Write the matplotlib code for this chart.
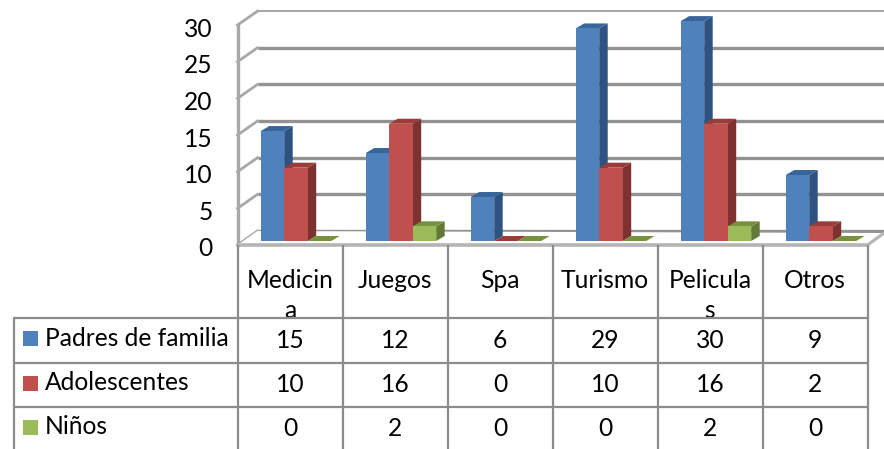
import matplotlib
matplotlib.use('Agg')
import matplotlib.pyplot as plt
from matplotlib.patches import Rectangle

plt.rcParams['font.family'] = ['Lato', 'DejaVu Sans']

category_lines = [['Medicin', 'a'], ['Juegos'], ['Spa'], ['Turismo'], ['Pelicula', 's'], ['Otros']]
series_names = ['Padres de familia', 'Adolescentes', 'Niños']
padres = [15, 12, 6, 29, 30, 9]
adolescentes = [10, 16, 0, 10, 16, 2]
ninos = [0, 2, 0, 0, 2, 0]
series_values = [padres, adolescentes, ninos]
y_ticks = [0, 5, 10, 15, 20, 25, 30]

front_colors = ['#4F81BD', '#C0504D', '#9BBB59']
side_colors = ['#2F5380', '#7D3230', '#637A36']
top_colors = ['#38659A', '#9A3C3A', '#76923C']

W, H = 884, 449
UNIT_X = 105.0   # px per category
UNIT_Y = 7.33    # px per value
X0 = 237.5       # left edge of the first category
Y0 = 241.0       # base of the bar fronts
GRID = '#929292'
TABLE = '#8C8C8C'
FS = 17.7

fig = plt.figure(figsize=(W / 100, H / 100), dpi=100)

# chart axes: x in categories, y in values
ax = fig.add_axes([0, 0, 1, 1])
ax.set_xlim(-X0 / UNIT_X, (W - X0) / UNIT_X)
ax.set_ylim(-(H - Y0) / UNIT_Y, Y0 / UNIT_Y)
ax.axis('off')

# table axes: plain pixels
tab = fig.add_axes([0, 0, 1, 1])
tab.set_xlim(0, W)
tab.set_ylim(H, 0)
tab.axis('off')
tab.patch.set_alpha(0)

DX = 20 / UNIT_X        # depth of the walls
BACK = 10 / UNIT_Y      # back wall above bar base
FRONT = -4 / UNIT_Y     # front floor edge below bar base
x_end = (W - X0) / UNIT_X
n_cat = len(category_lines)

# walls and gridlines
for v in y_ticks:
    ax.plot([DX, x_end], [v + BACK, v + BACK], color='#A8A8A8' if v == 30 else GRID,
            lw=1.5 if v == 30 else 2.4, zorder=1, solid_capstyle='butt')
    ax.plot([0, DX], [v + FRONT, v + BACK], color='#A8A8A8', lw=2.0, zorder=1)
    ax.text(-25 / UNIT_X, v + FRONT - 4 / UNIT_Y, str(v), ha='right', va='center', fontsize=FS, color='black')
ax.plot([0, 0], [FRONT, 30 + FRONT], color='#A8A8A8', lw=2.4, zorder=1, solid_capstyle='projecting')

# floor
ax.fill([0, n_cat, x_end, DX], [FRONT, FRONT, 12 / UNIT_Y + FRONT, BACK],
        color='white', zorder=1.5, lw=0)
ax.plot([0, n_cat], [FRONT, FRONT], color='#B4B4B4', lw=2.6, zorder=1.6, solid_capstyle='butt')
ax.plot([n_cat, x_end], [FRONT, FRONT + 12 / UNIT_Y], color='#B4B4B4', lw=2.2, zorder=1.6)

# bars
bar_w = 23.5 / UNIT_X
off = 23.2 / UNIT_X
dep_x = 8.5 / UNIT_X
dep_y = 5.0 / UNIT_Y
z = 2
for i in range(n_cat):
    for s, vals in enumerate(series_values):
        v = vals[i]
        left = i + off + s * bar_w
        right = left + bar_w
        z += 0.01
        ax.fill([right, right + dep_x, right + dep_x, right],
                [0, dep_y, v + dep_y, v], color=side_colors[s], lw=0, zorder=z)
        ax.fill([left, right, right + dep_x, left + dep_x],
                [v, v, v + dep_y, v + dep_y], color=top_colors[s], lw=0, zorder=z)
        ax.bar(left, v, bar_w, align='edge', color=front_colors[s], lw=0, zorder=z)

# table lines
col_x = [X0 + UNIT_X * k for k in range(n_cat + 1)]
row_y = [318, 362.5, 407]
for x in col_x:
    tab.plot([x, x], [245, H], color=TABLE, lw=1.6, zorder=5, solid_capstyle='butt')
tab.plot([13.5, 13.5], [318, H], color=TABLE, lw=1.6, zorder=5, solid_capstyle='butt')
for y in row_y:
    tab.plot([13, col_x[-1]], [y, y], color=TABLE, lw=1.6, zorder=5, solid_capstyle='butt')

# category labels, wrapped as in the picture and cut by the table line
clip = Rectangle((0, 245), W, 73, transform=tab.transData)
for i, lines in enumerate(category_lines):
    cx = X0 + UNIT_X * (i + 0.5)
    for j, line in enumerate(lines):
        t = tab.text(cx, 281 + 29 * j, line, ha='center', va='center', fontsize=FS, color='black', clip_on=True, zorder=4)
        t.set_clip_path(clip)

# data rows
text_y = [340, 385, 429]
label_y = [338, 383, 427]
swatch_y = [331, 376, 420]
for s, name in enumerate(series_names):
    tab.add_patch(Rectangle((23, swatch_y[s]), 15, 15, color=front_colors[s], lw=0, zorder=4))
    tab.text(45, label_y[s], name, ha='left', va='center', fontsize=FS, color='black', zorder=4)
    for i, v in enumerate(series_values[s]):
        tab.text(X0 + UNIT_X * (i + 0.5), text_y[s], str(v), ha='center', va='center',
                 fontsize=FS, color='black', zorder=4)

fig.savefig('out.png', dpi=100, facecolor='white')
